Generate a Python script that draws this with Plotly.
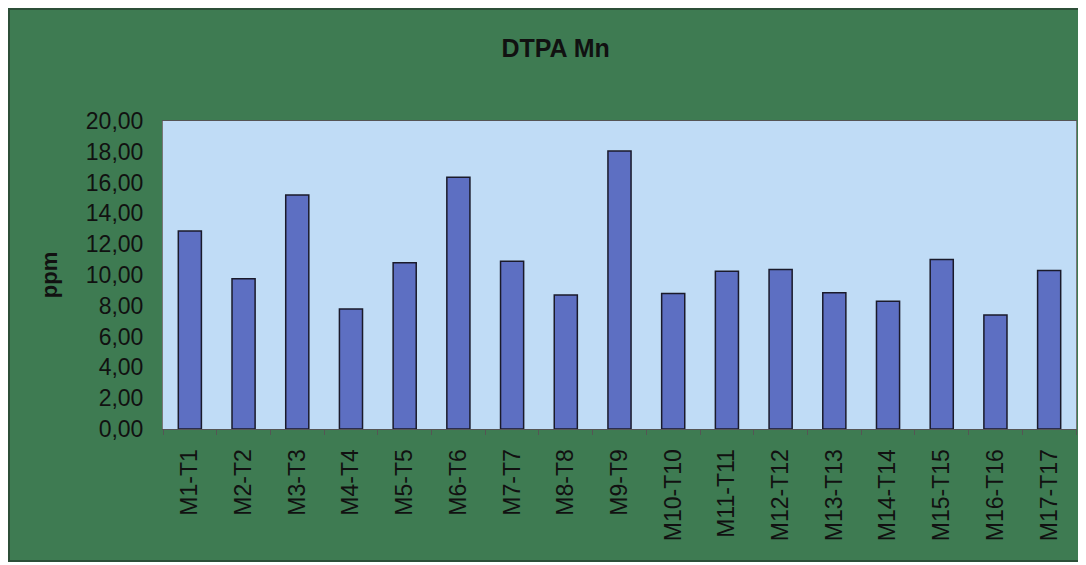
import plotly.graph_objects as go

categories = ["M1-T1", "M2-T2", "M3-T3", "M4-T4", "M5-T5", "M6-T6", "M7-T7", "M8-T8", "M9-T9",
              "M10-T10", "M11-T11", "M12-T12", "M13-T13", "M14-T14", "M15-T15", "M16-T16", "M17-T17"]
values = [12.85, 9.75, 15.2, 7.8, 10.8, 16.35, 10.9, 8.7, 18.05, 8.8, 10.25, 10.35, 8.85, 8.3, 11.0, 7.4, 10.3]
y_ticks = [0, 2, 4, 6, 8, 10, 12, 14, 16, 18, 20]

GREEN = "#3e7b52"
FONT = "Liberation Sans, Arial, sans-serif"

W, H = 1078, 554
ML, MR, MT, MB = 155, 10, 113, 133
PW, PH = W - ML - MR, H - MT - MB

fig = go.Figure(go.Bar(
    x=categories, y=values,
    marker=dict(color="#5d6fc2", line=dict(color="#1a1a2a", width=1.5)),
))

# page body has an 8px margin, so the figure is sized to fill the rest of the window
fig.update_layout(
    width=W, height=H,
    paper_bgcolor=GREEN, plot_bgcolor="#c0dcf6",
    margin=dict(l=ML, r=MR, t=MT, b=MB),
    separators=",.",
    bargap=0.57,
    showlegend=False,
    title=dict(text="<b>DTPA Mn</b>", x=0.508, xanchor="center", y=0.928, yanchor="middle",
               font=dict(family=FONT, size=25, color="#111111")),
    font=dict(family=FONT, color="#111111"),
    shapes=[
        dict(type="rect", xref="paper", yref="paper",
             x0=-(ML - 1) / PW, x1=1 + (MR + 2) / PW,
             y0=-(MB - 1) / PH, y1=1 + (MT - 1) / PH,
             line=dict(color="#2c4f38", width=2), fillcolor="rgba(0,0,0,0)", layer="below"),
    ],
)
fig.update_xaxes(
    type="category", tickangle=-90, tickfont=dict(size=23, family=FONT, color="#111111"),
    showline=True, linecolor="#555555", linewidth=1, mirror=True,
    ticks="outside", tickson="boundaries", ticklen=5, tickcolor="#555555",
    showgrid=False, ticklabelstandoff=10,
)
fig.update_yaxes(
    range=[0, 20], tickvals=y_ticks, tickformat=".2f",
    tickfont=dict(size=23, family=FONT, color="#111111"),
    showline=True, linecolor="#777777", linewidth=1, mirror=True,
    showgrid=False, zeroline=False, ticks="", ticklabelstandoff=14,
    title=dict(text="<b>ppm</b>", font=dict(size=22, family=FONT, color="#111111"), standoff=22),
)

fig.write_html("out.html")
